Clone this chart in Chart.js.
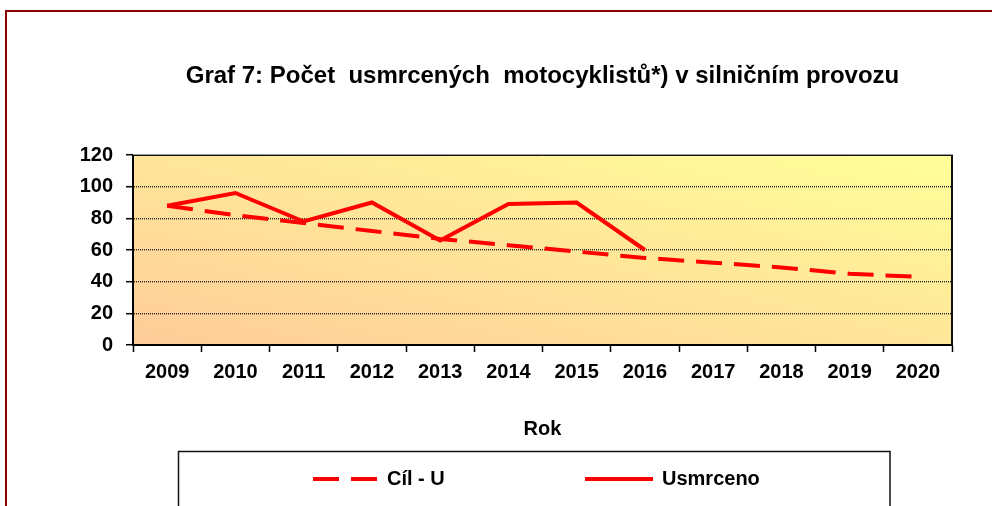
<!DOCTYPE html>
<html>
<head>
<meta charset="utf-8">
<script src="https://cdn.jsdelivr.net/npm/chart.js@4/dist/chart.umd.min.js"></script>
<style>
  html, body { margin: 0; padding: 0; background: #fff; }
  #wrap { width: 992px; height: 506px; }
</style>
</head>
<body>
<div id="wrap"><canvas id="c" width="992" height="506"></canvas></div>
<script>
const categories = ['2009', '2010', '2011', '2012', '2013', '2014', '2015', '2016', '2017', '2018', '2019', '2020'];
const targetValues = [88, 82, 77, 72, 67, 63, 59, 55, 52, 49, 45, 43];
const deathValues = [88, 96, 78, 90, 66, 89, 90, 60, null, null, null, null];
const yTickValues = [0, 20, 40, 60, 80, 100, 120];
const seriesNames = ['Cíl - U', 'Usmrceno'];
const titleText = 'Graf 7: Počet  usmrcených  motocyklistů*) v silničním provozu';
const axisTitle = 'Rok';

const boldFont = (size) => ({ family: 'Arial, "Liberation Sans", sans-serif', size: size, weight: 'bold', lineHeight: 1.2 });

const plotBackground = {
  id: 'plotBackground',
  beforeDraw(chart) {
    const { ctx, chartArea: a } = chart;
    ctx.save();
    ctx.fillStyle = '#ffffff';
    ctx.fillRect(0, 0, chart.width, chart.height);
    ctx.strokeStyle = '#8b0000';
    ctx.lineWidth = 2;
    ctx.strokeRect(6, 11, chart.width + 20, chart.height + 20);
    // diagonal gradient: bottom-left orange -> top-right yellow, isolines along TL-BR diagonal
    const W = a.right - a.left, H = a.bottom - a.top;
    const L = Math.sqrt(W * W + H * H);
    const ux = H / L, uy = -W / L, half = W * H / L;
    const cx = (a.left + a.right) / 2, cy = (a.top + a.bottom) / 2;
    const g = ctx.createLinearGradient(cx - ux * half, cy - uy * half, cx + ux * half, cy + uy * half);
    g.addColorStop(0, '#ffcc99');
    g.addColorStop(1, '#ffff99');
    ctx.fillStyle = g;
    ctx.fillRect(a.left, a.top, W, H);
    ctx.restore();
  },
  beforeDatasetsDraw(chart) {
    const { ctx, chartArea: a } = chart;
    ctx.save();
    ctx.lineWidth = 1;
    ctx.strokeStyle = '#9a9a9a';
    ctx.beginPath();
    ctx.moveTo(a.left, a.top - 0.5);
    ctx.lineTo(a.right + 1, a.top - 0.5);
    ctx.stroke();
    ctx.strokeStyle = '#111';
    ctx.beginPath();
    ctx.moveTo(a.left, a.top + 0.5);
    ctx.lineTo(a.right, a.top + 0.5);
    ctx.stroke();
    ctx.lineWidth = 2;
    ctx.beginPath();
    ctx.moveTo(a.right, a.top);
    ctx.lineTo(a.right, a.bottom);
    ctx.stroke();
    ctx.restore();
  }
};

const boxedLegend = {
  id: 'boxedLegend',
  afterDraw(chart) {
    const { ctx } = chart;
    ctx.save();
    ctx.strokeStyle = '#111';
    ctx.lineWidth = 1.5;
    ctx.strokeRect(178.5, 451.5, 711.5, 120);
    const items = [
      { x1: 313, x2: 379, tx: 387 },
      { x1: 585, x2: 653, tx: 662 }
    ];
    const y = 479;
    chart.data.datasets.forEach((ds, i) => {
      const it = items[i];
      ctx.strokeStyle = ds.borderColor;
      ctx.lineWidth = ds.borderWidth;
      ctx.setLineDash(ds.borderDash || []);
      ctx.beginPath();
      ctx.moveTo(it.x1, y);
      ctx.lineTo(it.x2, y);
      ctx.stroke();
      ctx.setLineDash([]);
      ctx.fillStyle = '#000';
      ctx.font = 'bold 20px Arial, "Liberation Sans", sans-serif';
      ctx.textBaseline = 'middle';
      ctx.textAlign = 'left';
      ctx.fillText(ds.label, it.tx, y);
    });
    ctx.restore();
  }
};

new Chart(document.getElementById('c'), {
  type: 'line',
  data: {
    labels: categories,
    datasets: [
      {
        label: seriesNames[0],
        data: targetValues,
        borderColor: '#ff0000',
        borderWidth: 4,
        borderDash: [26, 12],
        pointRadius: 0,
        tension: 0,
        fill: false
      },
      {
        label: seriesNames[1],
        data: deathValues,
        borderColor: '#ff0000',
        borderWidth: 4,
        pointRadius: 0,
        tension: 0,
        fill: false,
        spanGaps: false
      }
    ]
  },
  options: {
    responsive: false,
    animation: false,
    devicePixelRatio: 1,
    layout: { padding: { left: 40, right: 40, top: 0, bottom: 65 } },
    plugins: {
      legend: { display: false },
      tooltip: { enabled: false },
      title: {
        display: true,
        fullSize: false,
        text: titleText,
        color: '#000',
        font: boldFont(24),
        padding: { top: 62.1, bottom: 64.1 }
      }
    },
    scales: {
      x: {
        type: 'category',
        offset: true,
        grid: {
          offset: true,
          drawOnChartArea: false,
          drawTicks: true,
          tickLength: 7,
          tickColor: '#000',
          tickWidth: 1.5
        },
        border: { color: '#000', width: 2 },
        ticks: { color: '#000', font: boldFont(20), padding: 8, maxRotation: 0, autoSkip: false },
        title: { display: true, text: axisTitle, color: '#000', font: boldFont(20), padding: { top: 0, bottom: 0 } },
        afterFit(scale) { scale.height = 96; }
      },
      y: {
        min: yTickValues[0],
        max: yTickValues[yTickValues.length - 1],
        afterBuildTicks(scale) { scale.ticks = yTickValues.map(v => ({ value: v })); },
        grid: {
          color: (c) => (c.tick && (c.tick.value === yTickValues[0] || c.tick.value === yTickValues[yTickValues.length - 1])) ? 'rgba(0,0,0,0)' : '#222',
          lineWidth: 1.4,
          tickColor: '#000',
          tickWidth: 1.5,
          tickLength: 7
        },
        border: { color: '#000', width: 2, dash: [1, 1] },
        ticks: { color: '#000', font: boldFont(20), padding: 13 },
        afterFit(scale) { scale.width = 93; }
      }
    }
  },
  plugins: [plotBackground, boxedLegend]
});
</script>
</body>
</html>
